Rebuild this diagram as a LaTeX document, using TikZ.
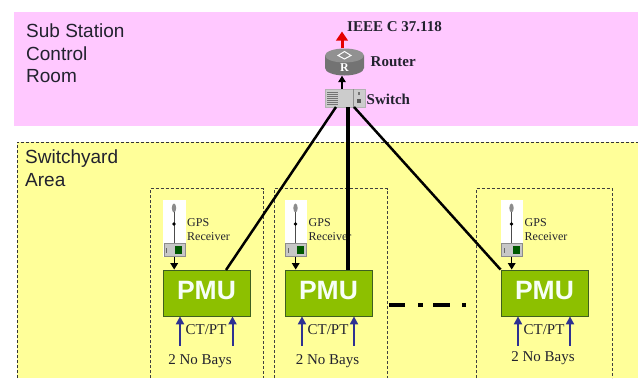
\documentclass[tikz,border=0pt]{standalone}
\usepackage{fontspec}
\setmainfont{Liberation Serif}
\setsansfont{Liberation Sans}
\usetikzlibrary{arrows.meta,calc}
\definecolor{pinkroom}{HTML}{FFC8FF}
\definecolor{yard}{HTML}{FFFF99}
\definecolor{pmugreen}{HTML}{8DC000}
\definecolor{pmuedge}{HTML}{3E5F20}
\definecolor{bayblue}{HTML}{2E3192}
\definecolor{inktext}{HTML}{22222E}
\tikzset{
  x=1pt,y=-1pt,
  areatext/.style={font=\sffamily\fontsize{19}{22.3}\selectfont,text=inktext,align=left,anchor=north west,inner sep=0pt},
  labeltext/.style={font=\bfseries\fontsize{15}{18}\selectfont,text=inktext,anchor=west,inner sep=0pt},
  gpstext/.style={font=\fontsize{12}{14}\selectfont,text=inktext,align=left,anchor=north west,inner sep=0pt},
  baytext/.style={font=\fontsize{15}{18}\selectfont,text=inktext,inner sep=0pt},
  baybox/.style={draw=black!75,densely dashed,line width=0.6pt},
  pmubox/.style={draw=pmuedge,fill=pmugreen,line width=0.8pt,minimum width=87pt,minimum height=46pt,inner sep=0pt},
  pmutext/.style={text=white!97!green,font=\sffamily\bfseries\fontsize{26.5}{30}\selectfont,inner sep=0pt},
  feed/.style={bayblue,line width=2pt,-{Triangle[length=8pt,width=8pt]}},
  blackarrow/.style={black,line width=1.4pt,-{Triangle[length=6.5pt,width=7.5pt]}},
  link/.style={black,line width=2.5pt},
  thicklink/.style={black,line width=3.6pt},
}
\begin{document}
\begin{tikzpicture}
\useasboundingbox (0,0) rectangle (638,378);
% areas
\fill[pinkroom] (14,12) rectangle (638,126);
\fill[yard] (17,142) rectangle (638,378);
\draw[black!80,densely dashed,line width=0.6pt] (17,378) -- (17,142) -- (638,142);
\node[areatext] (roomlabel) at (26,24) {Sub Station\\Control\\Room};
\node[areatext] (yardlabel) at (25,150) {Switchyard\\Area};
% bay boxes
\draw[baybox] (150,378) -- (150,188.5) -- (263,188.5) -- (263,378);
\draw[baybox] (274,378) -- (274,188.5) -- (387,188.5) -- (387,378);
\draw[baybox] (476,378) -- (476,188.5) -- (612,188.5) -- (612,378);
% bays: index / pmu centre / gps x / arrows / bay label x, y
\foreach \i/\px/\gx/\ax/\bx/\lx/\ly in {1/206.5/163/180/232.5/200/361, 2/328.5/284.5/302/354/327.5/361, 3/544.5/500.5/518/570/543/358}{
  \node[pmubox] (pmu\i) at (\px,293) {};
  \node[pmutext] (pmutitle\i) at (\px,291) {PMU};
  \node[fill=white,inner sep=0pt,minimum width=22.5pt,minimum height=57pt,anchor=north west] (gps\i) at (\gx,200) {};
  \fill[black!45] (\gx+11,208) ellipse (2.2 and 4.5);
  \draw[black!70,line width=1pt] (\gx+11,212) -- (\gx+11,244);
  \fill[black] (\gx+11,224) circle (1.8);
  \node[draw=black!45,fill=black!22,inner sep=0pt,minimum width=21pt,minimum height=13.5pt,anchor=south] (dev\i) at (\gx+11.2,256.5) {};
  \fill[green!35!black] (\gx+12,246) rectangle (\gx+19,254);
  \fill[black!60] (\gx+3,248) rectangle (\gx+4.2,253);
  \node[gpstext] (gpslabel\i) at (\gx+24,218) {GPS\\Receiver};
  \draw[blackarrow] (dev\i.south) -- (dev\i.south |- pmu\i.north);
  \coordinate (fa\i) at (\ax,345.5);
  \coordinate (fb\i) at (\bx,345.5);
  \draw[feed] (fa\i) -- (fa\i |- pmu\i.south);
  \draw[feed] (fb\i) -- (fb\i |- pmu\i.south);
  \node[baytext] (ct\i) at (\px-0.5,330) {CT/PT};
  \node[baytext] (bays\i) at (\lx,\ly) {2 No Bays};
}
% switch
\node[fill=black!20,draw=black!30,line width=0.4pt,inner sep=0pt,minimum width=40pt,minimum height=18pt] (switch) at (345,98) {};
\foreach \yy in {92,94,96,98,100,102,104}{\draw[black!55,line width=0.7pt] (327,\yy) -- (338,\yy);}
\draw[black!45,line width=0.4pt] (353,89) -- (353,107);
\fill[black!65] (357,99) rectangle (361,103);
\fill[black!55] (358,92) rectangle (360,95);
% router
\node[inner sep=0pt,minimum width=39pt,minimum height=27pt] (router) at (344.5,62) {};
\fill[black!55] (325,55.5) -- (325,68) arc[start angle=180,end angle=0,x radius=19.5,y radius=7.5] -- (364,55.5) -- cycle;
\fill[black!43] (344.5,55.5) ellipse (19.5 and 7);
\draw[white,line width=1pt] (344.5,51.5) -- (351,55.5) -- (344.5,59) -- (338,55.5) -- cycle;
\node[text=white,font=\bfseries\fontsize{12}{13}\selectfont,inner sep=0pt] (routerR) at (344.5,67.5) {R};
% upper labels
\node[labeltext] (ieee) at (347,27) {IEEE C 37.118};
\node[labeltext] (routerlabel) at (370.5,62) {Router};
\node[labeltext] (switchlabel) at (366.5,99) {Switch};
% upper arrows
\coordinate (out) at (342,31.5);
\draw[red!90!black,line width=3pt,-{Triangle[length=9pt,width=11.5pt]}] (router.north -| out) -- (out);
\draw[blackarrow] (switch.north -| out) -- (router.south -| out);
% links
\coordinate (s1) at (336,107);
\coordinate (s2) at (348,107);
\coordinate (s3) at (354,107);
\coordinate (p1) at (226,270);
\coordinate (p2) at (348,270);
\draw[link] (s1) -- (p1);
\draw[thicklink] (s2) -- (p2);
\draw[link] (s3) -- (pmu3.north west);
% dash-dot continuation between bays
\coordinate (d1) at (389,305);
\coordinate (d2) at (466,305);
\draw[black,line width=4pt,dash pattern=on 16pt off 13pt on 5pt off 10pt on 17pt off 12pt on 5pt off 100pt] (d1) -- (d2);
\end{tikzpicture}
\end{document}
